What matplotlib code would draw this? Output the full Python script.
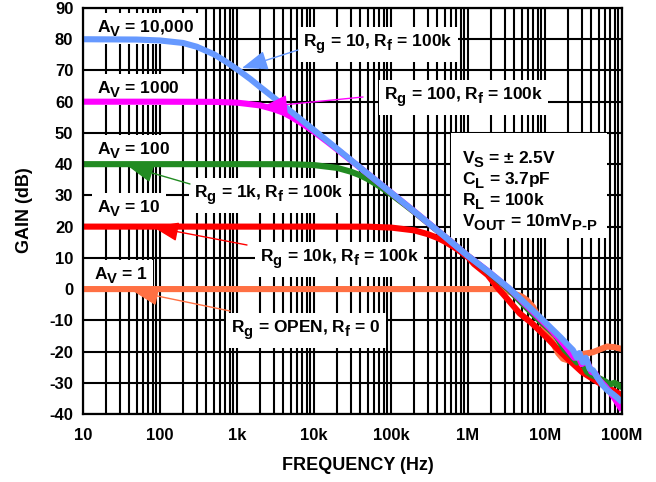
import matplotlib
matplotlib.use('Agg')
import matplotlib.pyplot as plt
import matplotlib._mathtext as _mt
from matplotlib.patches import Rectangle
from matplotlib.ticker import LogLocator, NullFormatter

_mt.SHRINK_FACTOR = 0.85
_mt.FontConstantsBase.sub1 = 0.55
_mt.FontConstantsBase.sub2 = 0.7

plt.rcParams['font.family'] = ['Liberation Sans', 'DejaVu Sans']
plt.rcParams['font.weight'] = 'bold'
plt.rcParams['mathtext.fontset'] = 'custom'
plt.rcParams['mathtext.rm'] = 'Liberation Sans:bold'
plt.rcParams['mathtext.it'] = 'Liberation Sans:bold'
plt.rcParams['mathtext.bf'] = 'Liberation Sans:bold'
plt.rcParams['mathtext.sf'] = 'Liberation Sans:bold'

# ---------------- data ----------------
freq_av1 = [10, 1e3, 1e5, 1e6, 2.4e6, 3.2e6, 4e6, 5e6, 5.8e6, 7e6, 8.6e6, 1.06e7, 1.27e7,
            1.48e7, 1.71e7, 2.11e7, 2.85e7, 4.2e7, 6.4e7, 8e7, 1e8]
gain_av1 = [0, 0, 0, 0, 0, -0.6, -1.5, -2.4, -3.5, -5.7, -10, -13.7, -17.3,
            -20.5, -22.3, -23, -21, -20.2, -18.4, -18.6, -19.2]

freq_av10 = [10, 1e4, 5e4, 1e5, 2e5, 3e5, 4e5, 5e5, 7e5, 1e6, 1.2e6, 1.8e6, 2.5e6, 3e6,
             4.7e6, 6.8e6, 1.07e7, 1.5e7, 2e7, 3e7, 5e7, 1e8]
gain_av10 = [20, 20, 19.98, 19.7, 18.8, 17.6, 16.4, 15.2, 13.0, 10.2, 8.0, 4.5, 0, -2.2,
             -7.8, -11, -15.7, -19.5, -22.5, -26.5, -30, -34]

freq_av100 = [10, 1e3, 5e3, 1e4, 2e4, 3e4, 4e4, 5e4, 7e4, 1e5, 1.5e5, 2e5, 5e5, 1e6, 1.8e6,
              3.4e6, 5e6, 8e6, 1.36e7, 1.8e7, 2.2e7, 2.6e7, 3e7, 3.5e7, 4e7, 5e7, 6e7, 7e7,
              8e7, 1e8]
gain_av100 = [40, 40, 39.98, 39.7, 38.8, 37.6, 36.4, 35.2, 33.0, 30.4, 27.1, 24.7, 16.8, 10.6,
              5.6, -0.2, -4.5, -9.5, -14.7, -19.5, -21.5, -23.5, -23, -26.5, -27.5, -28.5,
              -29.5, -30.5, -30, -31.5]

freq_av1000 = [10, 100, 500, 1e3, 2e3, 3e3, 4e3, 5e3, 7e3, 1e4, 1.5e4, 2e4, 5e4, 1e5, 2e5,
               5e5, 1e6, 1.8e6, 3.4e6, 5e6, 8.6e6, 1.2e7, 1.6e7, 2e7, 2.4e7, 2.7e7, 3e7,
               3.5e7, 4e7, 4.5e7, 5e7, 6e7, 7e7, 8e7, 9e7, 1e8]
gain_av1000 = [60, 60, 59.95, 59.7, 58.8, 57.6, 56.5, 55.2, 53.0, 50.4, 47.1, 44.7, 36.9,
               30.9, 24.9, 16.8, 10.6, 5.8, 0.2, -3.8, -9.5, -13, -16.5, -19.5, -22, -21.5,
               -24, -23, -26.5, -27, -29, -31, -33, -35, -37, -38.7]

freq_av10000 = [10, 50, 100, 200, 300, 500, 700, 1e3, 1.5e3, 2e3, 3e3, 5e3, 7e3, 1e4, 2e4,
                5e4, 1e5, 2e5, 5e5, 1e6, 1.8e6, 3.4e6, 5e6, 8.6e6, 1.2e7, 1.6e7, 2e7, 2.3e7,
                2.6e7, 2.8e7, 3.1e7, 3.4e7, 3.8e7, 4.2e7, 4.7e7, 5.5e7, 6.5e7, 7.5e7, 8.5e7,
                1e8]
gain_av10000 = [80, 79.9, 79.6, 78.8, 77.6, 75.2, 73.0, 70.4, 67.2, 64.7, 61.3, 56.9, 54.0,
                50.9, 44.9, 36.9, 30.9, 24.9, 16.8, 10.6, 5.8, 0.3, -3.5, -9, -12.5, -15.5,
                -18, -19.5, -22, -20.5, -23.5, -22, -25.5, -26, -28, -30.5, -32.5, -33.5,
                -34.6, -36.2]

x_ticks = [10, 100, 1e3, 1e4, 1e5, 1e6, 1e7, 1e8]
x_tick_labels = ['10', '100', '1k', '10k', '100k', '1M', '10M', '100M']
y_ticks = [90, 80, 70, 60, 50, 40, 30, 20, 10, 0, -10, -20, -30, -40]
y_tick_labels = ['90', '80', '70', '60', '50', '40', '30', '20', '10', '0',
                 '-10', '-20', '-30', '-40']

C_ORANGE = '#FF7043'
C_RED = '#FF0000'
C_GREEN = '#228B22'
C_MAGENTA = '#FF00FF'
C_BLUE = '#6699FF'

# ---------------- figure ----------------
W, H = 656, 482
fig = plt.figure(figsize=(W / 100, H / 100), dpi=100)
L, R, T, B = 83, 622, 8, 414
ax = fig.add_axes([L / W, 1 - B / H, (R - L) / W, (B - T) / H])
ax.set_xscale('log')
ax.set_xlim(10, 1e8)
ax.set_ylim(-40, 90)

lw = 4.4
ax.plot(freq_av1, gain_av1, color=C_ORANGE, lw=lw, zorder=3, solid_capstyle='butt')
ax.plot(freq_av10, gain_av10, color=C_RED, lw=lw, zorder=3.1, solid_capstyle='butt')
ax.plot(freq_av100, gain_av100, color=C_GREEN, lw=lw, zorder=3.2, solid_capstyle='butt')
ax.plot(freq_av1000, gain_av1000, color=C_MAGENTA, lw=lw, zorder=3.3, solid_capstyle='butt')
ax.plot(freq_av10000, gain_av10000, color=C_BLUE, lw=lw, zorder=3.4, solid_capstyle='butt')

ax.set_xticks(x_ticks, x_tick_labels)
ax.set_yticks(y_ticks, y_tick_labels)
ax.xaxis.set_minor_locator(LogLocator(base=10, subs=range(2, 10), numticks=100))
ax.xaxis.set_minor_formatter(NullFormatter())
ax.tick_params(axis='both', which='both', length=0, labelsize=12)
ax.tick_params(axis='x', pad=10)
ax.tick_params(axis='y', pad=7)
ax.set_axisbelow(True)
ax.grid(True, which='major', axis='both', color='black', lw=1.5)
ax.grid(True, which='minor', axis='x', color='black', lw=1.5)
for s in ax.spines.values():
    s.set_linewidth(1.6)
    s.set_color('black')
    s.set_zorder(4)

ax.set_xlabel('FREQUENCY (Hz)', fontsize=13, fontweight='bold')
ax.xaxis.set_label_coords((358 - L) / (R - L), (B - 457) / (B - T))
ax.set_ylabel('GAIN (dB)', fontsize=13, fontweight='bold')
ax.yaxis.set_label_coords((33 - L) / (R - L), (B - 210) / (B - T))

inv = ax.transData.inverted()


def P(x, y):
    return tuple(inv.transform((x, H - y)))


box = dict(boxstyle='square,pad=0.3', fc='white', ec='none')
fs = 12.5

# gain labels
for txt, (px, py) in [(r'$\mathrm{A_V}$ = 10,000', (97, 32)),
                      (r'$\mathrm{A_V}$ = 1000', (97, 93)),
                      (r'$\mathrm{A_V}$ = 100', (97, 154)),
                      (r'$\mathrm{A_V}$ = 10', (97, 212)),
                      (r'$\mathrm{A_V}$ = 1', (94, 279))]:
    ax.text(*P(px, py), txt, fontsize=fs, ha='left', va='baseline', bbox=box, zorder=2.6)

# resistor labels with arrows
labels = [
    (r'$\mathrm{R_g}$ = 10, $\mathrm{R_f}$ = 100k', (303, 47), (298, 50), (242, 68), C_BLUE),
    (r'$\mathrm{R_g}$ = 100, $\mathrm{R_f}$ = 100k', (384, 100), (363, 97), (262, 107), C_MAGENTA),
    (r'$\mathrm{R_g}$ = 1k, $\mathrm{R_f}$ = 100k', (194, 198), (190, 184), (128, 166), C_GREEN),
    (r'$\mathrm{R_g}$ = 10k, $\mathrm{R_f}$ = 100k', (260, 262), (247, 245), (153, 227), C_RED),
    (r'$\mathrm{R_g}$ = OPEN, $\mathrm{R_f}$ = 0', (231, 333), (230, 311), (133, 291), C_ORANGE),
]
for txt, tpos, start, tip, col in labels:
    ax.text(*P(*tpos), txt, fontsize=fs, ha='left', va='baseline', bbox=box, zorder=2.6)
    ax.annotate('', xy=P(*tip), xytext=P(*start),
                arrowprops=dict(arrowstyle='-|>,head_length=0.8,head_width=0.3',
                                color=col, lw=1.0, shrinkA=0, shrinkB=0,
                                mutation_scale=20), zorder=6)

# conditions box
x0, y0 = P(451, 238)
x1, y1 = P(607, 133)
ax.add_patch(Rectangle((x0, y0), x1 - x0, y1 - y0, fc='white', ec='none', zorder=2.5))
for txt, py in [(r'$\mathrm{V_S}$ = ± 2.5V', 163),
                (r'$\mathrm{C_L}$ = 3.7pF', 184),
                (r'$\mathrm{R_L}$ = 100k', 205),
                ('$\\mathrm{V_{OUT}}$ = 10mV$\\mathrm{_{P\u2010P}}$', 226)]:
    ax.text(*P(462, py), txt, fontsize=fs, ha='left', va='baseline', zorder=2.6)

fig.savefig('out.png', dpi=100)
